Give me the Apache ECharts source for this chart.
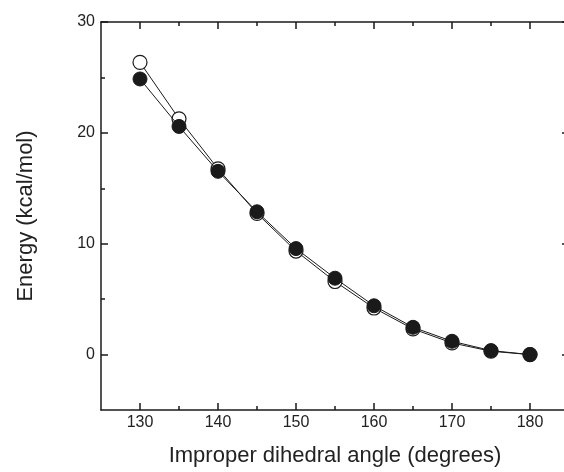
<!DOCTYPE html>
<html>
<head>
<meta charset="utf-8">
<script src="https://cdn.jsdelivr.net/npm/echarts@6/dist/echarts.min.js"></script>
<style>
  html, body { margin: 0; padding: 0; background: #fff; overflow: hidden; }
  /* a bit wider than the window: the right frame sits just past the edge */
  #chart { width: 570px; height: 472px; }
</style>
</head>
<body>
<div id="chart"></div>
<script>
// improper dihedral angle (degrees)
const angles = [130, 135, 140, 145, 150, 155, 160, 165, 170, 175, 180];
// energies (kcal/mol)
const openEnergy = [26.36, 21.27, 16.75, 12.73, 9.34, 6.59, 4.2, 2.31, 1.05, 0.3, 0];
const filledEnergy = [24.86, 20.58, 16.53, 12.88, 9.56, 6.89, 4.4, 2.46, 1.2, 0.36, 0];

// ticks
const xMajor = [130, 140, 150, 160, 170, 180];
const xMinor = [135, 145, 155, 165, 175];
const yMajor = [0, 10, 20, 30];
const yMinor = [5, 15, 25];

const ink = '#1a1a1a';
const font = 'Liberation Sans, Arial, sans-serif';

function axisBase(pos, min, max, lineOn) {
  return {
    type: 'value',
    position: pos,
    min: min,
    max: max,
    axisLine: { show: lineOn, onZero: false, lineStyle: { color: ink, width: 1.5 } },
    splitLine: { show: false },
    axisLabel: { show: false }
  };
}

function tickAxis(pos, min, max, values, len, lineOn) {
  const a = axisBase(pos, min, max, lineOn);
  a.axisTick = { show: true, inside: true, length: len, customValues: values,
                 lineStyle: { color: ink, width: 1.5 } };
  return a;
}

const chart = echarts.init(document.getElementById('chart'));

const xMain = tickAxis('bottom', 125, 185, xMajor, 7, true);
xMain.axisLabel = { show: true, customValues: xMajor, margin: 5,
                    color: '#222', fontSize: 16, fontFamily: font };
xMain.name = 'Improper dihedral angle (degrees)';
xMain.nameLocation = 'middle';
xMain.nameGap = 35;
xMain.nameTextStyle = { color: '#222', fontSize: 22, fontFamily: font };

const yMain = tickAxis('left', -5, 30, yMajor, 7, true);
yMain.axisLabel = { show: true, customValues: yMajor, margin: 6,
                    color: '#222', fontSize: 16, fontFamily: font };
yMain.name = 'Energy (kcal/mol)';
yMain.nameLocation = 'middle';
yMain.nameGap = 64;
yMain.nameTextStyle = { color: '#222', fontSize: 22, fontFamily: font };

const option = {
  animation: false,
  grid: { left: 101, top: 22, right: 1, bottom: 60, containLabel: false },
  xAxis: [
    xMain,
    tickAxis('bottom', 125, 185, xMinor, 4, false),
    tickAxis('top', 125, 185, xMajor, 7, true),
    tickAxis('top', 125, 185, xMinor, 4, false)
  ],
  yAxis: [
    yMain,
    tickAxis('left', -5, 30, yMinor, 4, false),
    tickAxis('right', -5, 30, yMajor, 7, true),
    tickAxis('right', -5, 30, yMinor, 4, false)
  ],
  series: [
    {
      name: 'open',
      type: 'line',
      data: angles.map((a, i) => [a, openEnergy[i]]),
      symbol: 'circle',
      symbolSize: 14,
      itemStyle: { color: '#fff', borderColor: ink, borderWidth: 1.2 },
      lineStyle: { color: ink, width: 1 },
      z: 3
    },
    {
      name: 'filled',
      type: 'line',
      data: angles.map((a, i) => [a, filledEnergy[i]]),
      symbol: 'circle',
      symbolSize: 14,
      itemStyle: { color: ink, borderColor: ink, borderWidth: 1 },
      lineStyle: { color: ink, width: 1 },
      z: 4
    }
  ]
};

chart.setOption(option);
</script>
</body>
</html>
